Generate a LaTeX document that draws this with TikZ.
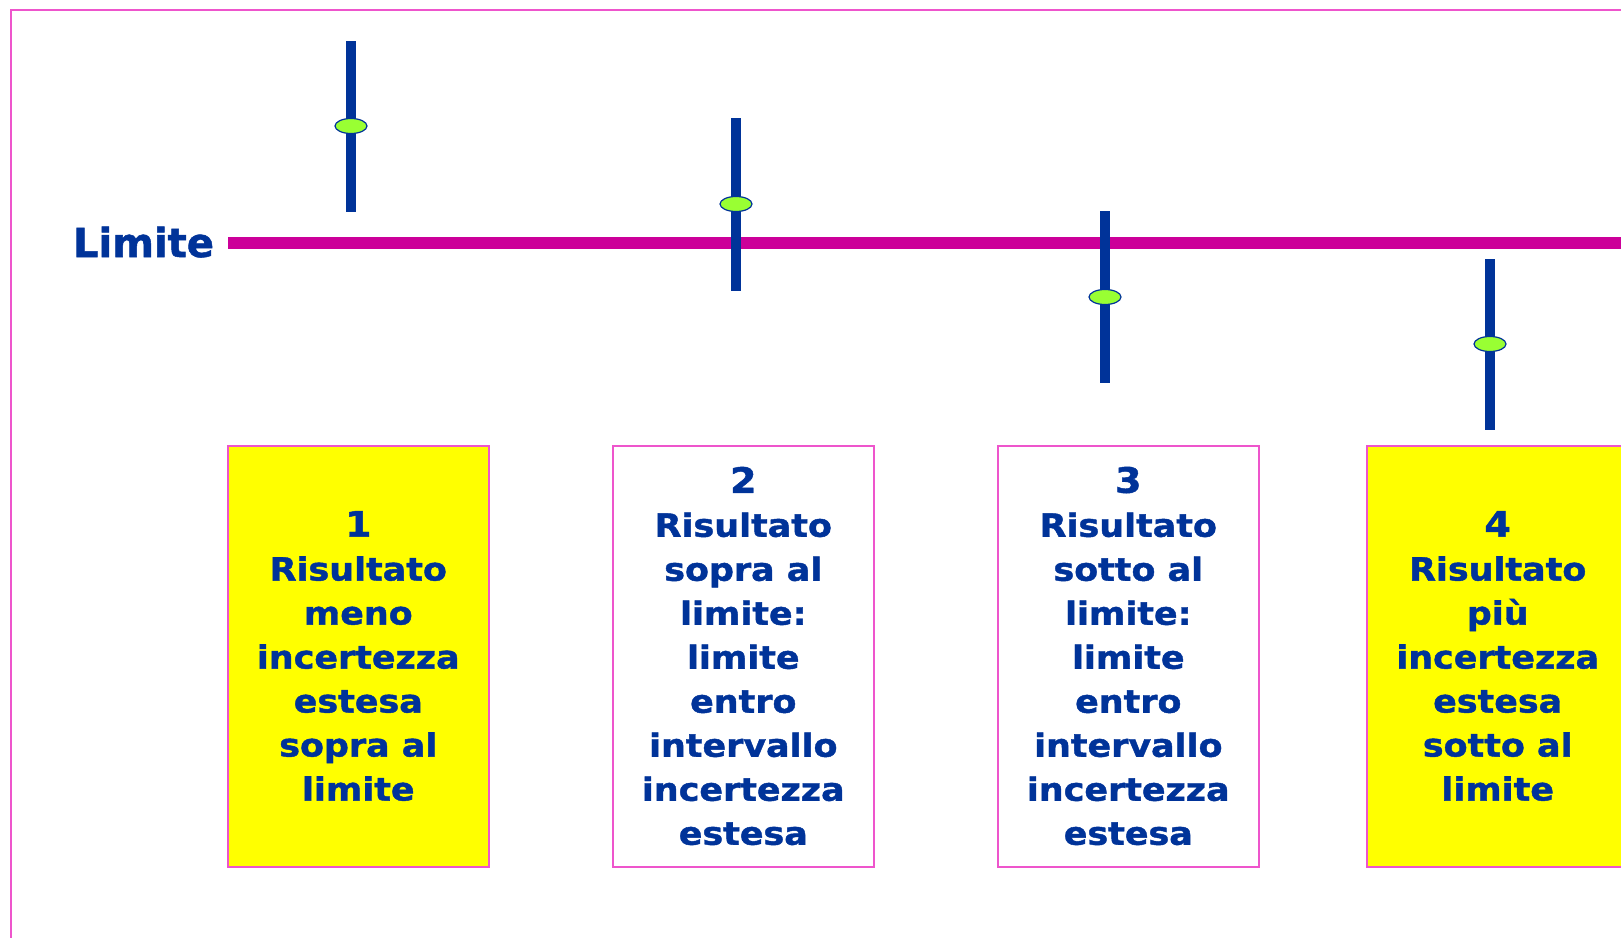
\documentclass[tikz,border=0pt]{standalone}
\usepackage{fontspec}
\setmainfont{DejaVu Sans}
\newfontfamily\boxfont[BoldFeatures={FakeStretch=1.09,FakeBold=1.3}]{DejaVu Sans}
\newfontfamily\limfont[BoldFeatures={FakeBold=1.3}]{DejaVu Sans}
\usetikzlibrary{shapes.geometric}
\definecolor{navy}{HTML}{003399}
\definecolor{limitmag}{HTML}{CC0099}
\definecolor{framemag}{HTML}{EE55CC}
\definecolor{dotgreen}{HTML}{99FF33}
\definecolor{boxyellow}{HTML}{FFFF00}
\begin{document}
\begin{tikzpicture}[x=0.5pt,y=-0.5pt,
  errbar/.style={line width=5pt,draw=navy},
  dot/.style={ellipse,minimum width=16pt,minimum height=7.5pt,inner sep=0pt,fill=dotgreen,draw=navy,line width=0.6pt},
  limline/.style={line width=6pt,draw=limitmag},
  resbox/.style={rectangle,draw=framemag,line width=1pt,minimum width=130.5pt,minimum height=210.5pt,inner sep=2pt,align=center,text=navy,font=\boxfont\bfseries\fontsize{16}{22}\selectfont},
  ylw/.style={resbox,fill=boxyellow},
  wht/.style={resbox,fill=white}
]
\useasboundingbox (0,0) rectangle (1621,937);
\clip (0,0) rectangle (1621,937);
\fill[white] (0,0) rectangle (1621,937);
\draw[framemag,line width=1pt] (11,10) rectangle (1700,1000);

% Limite line
\node[anchor=base,text=navy,font=\limfont\bfseries\fontsize{20}{24}\selectfont] (lim) at (143.5,257) {Limite};
\coordinate (lineA) at (228,243);
\coordinate (lineB) at (1640,243);
\draw[limline] (lineA) -- (lineB);

% error bars
\coordinate (t1) at (351,41);   \coordinate (b1) at (351,212);
\coordinate (t2) at (736,118);  \coordinate (b2) at (736,291);
\coordinate (t3) at (1105,211); \coordinate (b3) at (1105,383);
\coordinate (t4) at (1490,259); \coordinate (b4) at (1490,430);
\draw[errbar] (t1) -- (b1);
\draw[errbar] (t2) -- (b2);
\draw[errbar] (t3) -- (b3);
\draw[errbar] (t4) -- (b4);
\node[dot] (d1) at (351,126) {};
\node[dot] (d2) at (736,204) {};
\node[dot] (d3) at (1105,297) {};
\node[dot] (d4) at (1490,344) {};

% boxes
\node[ylw] (box1) at (358.3,656) {{\fontsize{17.5}{22}\selectfont 1}\\Risultato\\meno\\incertezza\\estesa\\sopra al\\limite};
\node[wht] (box2) at (743.3,656) {{\fontsize{17.5}{22}\selectfont 2}\\Risultato\\sopra al\\limite:\\limite\\entro\\intervallo\\incertezza\\estesa};
\node[wht] (box3) at (1128.3,656) {{\fontsize{17.5}{22}\selectfont 3}\\Risultato\\sotto al\\limite:\\limite\\entro\\intervallo\\incertezza\\estesa};
\node[ylw] (box4) at (1497.7,656) {{\fontsize{17.5}{22}\selectfont 4}\\Risultato\\più\\incertezza\\estesa\\sotto al\\limite};
\end{tikzpicture}
\end{document}
